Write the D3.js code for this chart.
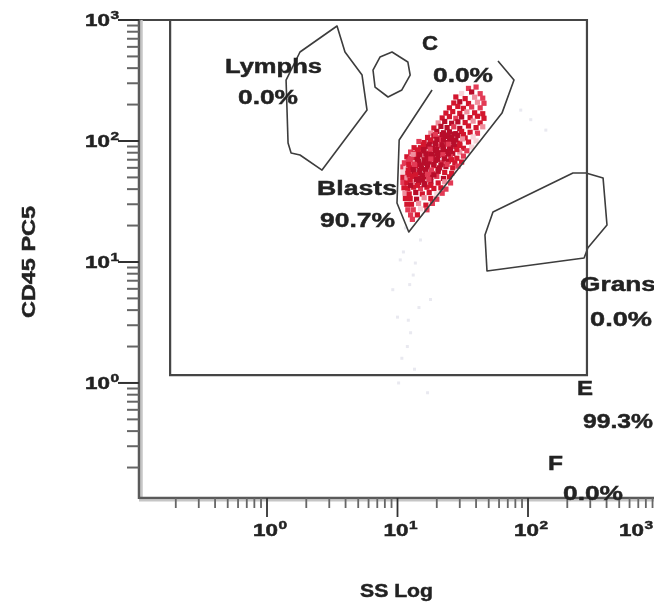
<!DOCTYPE html>
<html><head><meta charset="utf-8">
<script src="https://cdn.jsdelivr.net/npm/d3@7"></script>
<style>
body{margin:0;background:#fff;}
svg{display:block;}
text{font-family:"Liberation Sans",Arial,sans-serif;font-weight:bold;fill:#232323;stroke:#232323;stroke-width:0.45px;}
</style>
</head><body>
<svg id="chart" width="654" height="602"></svg>
<script>
// ---------- data ----------
const xTickValues = [1, 10, 100, 1000];
const xTickExps   = ["0", "1", "2", "3"];
const yTickValues = [1, 10, 100, 1000];
const yTickExps   = ["0", "1", "2", "3"];
const xTitle = "SS Log";
const yTitle = "CD45 PC5";

// events [SS, CD45] inside the Blasts gate (red)
const blastEvents = [
[35,272],[40,279],
[31,247],[37,254],[43,246],
[28,231],[33,224],[39,230],[45,226],
[27,206],[30,211],[35,204],[41,209],[46,205],
[25,188],[29,193],[32,186],[37,191],[43,188],
[23.5,170],[26.5,175],[30,169],[34,174],[39,171],[45,168],
[22,155],[25,159],[28,154],[31,158],[36,156],[41,160],[46,154],
[20.5,141],[23,145],[26,140],[29,144],[33,142],[38,146],[43,141],
[19,128],[21.5,132],[24,129],[27,131],[30,127],[35,133],[40,129],[45,131],
[18,116],[20,120],[22.5,117],[25,119],[28,115],[31,120],[36,118],[41,116],
[17,107],[19,110],[21,106],[23,109],[26,107],[29,111],[33,106],[38,108],
[14.6,99],[16,97],[17.8,99],[19.5,96],[21.5,100],[24,97],[27,99],[30,96],[35,98],[40,100],
[13.4,88],[15,88],[16.8,90],[18.5,87],[20.5,91],[22.5,89],[25,88],[28,90],[32,87],[37,89],
[12.6,81],[13.4,79],[14.5,80],[16,82],[17.5,79],[19.5,83],[21.5,80],[24,82],[26.5,79],[30,81],[34,83],
[11.8,74],[12.6,72],[13.8,73],[15.2,75],[16.8,72],[18.5,74],[20.5,76],[23,73],[25.5,74],[28.5,72],[32,75],
[11.3,66],[12.1,68],[13,66],[14.5,68],[16,65.5],[17.5,67],[19.5,69],[22,66],[24.5,68],[27.5,66],[31,67],
[11.0,61],[11.6,59],[12.5,60],[13.8,62],[15.3,59.5],[17,61],[19,62.5],[21,60],[23.5,61.5],[26.5,60],[29,62],
[11.0,55],[12,54],[13.4,56],[14.8,54.5],[16.5,55.5],[18.5,54],[20.5,56],[23,55],[26,54],
[11.0,50],[11.8,49.5],[13,51],[14.5,49],[16,50.5],[18,50],[20,51],[22.5,49],[25,50.5],
[11.0,45.5],[11.8,45],[13,46],[14.5,45.5],[16.2,44.5],[18,46],[20.5,45],[23,46],[25.5,45],
[11.2,41],[12,40.5],[13.3,41.5],[15,40.5],[16.8,41.5],[19,40.5],[21.5,41],[23.5,40],
[11.4,37],[12.3,36.5],[13.8,37.5],[15.5,36.5],[17.5,37.5],[20,36.5],[22,37],
[11.5,33.5],[12.5,33.5],[14,33],[16,34],[18,33.5],[20,33],
[11.8,30],[12.8,30],[14.5,30.5],[16.5,29.5],[18.5,30.5],
[12.0,27],[13.2,27],[15,27.5],[16.8,27],
[12.6,24.5],[14.2,24.5],[13.0,22.5],
// in-between events of the dense core
[19.5,113],[22,113],[24.5,112],[27,114],[32,113],
[18,102],[20,103],[22.5,102],[25,103],[28,102],[31.5,104],
[15.8,93],[17.5,93],[19.5,94],[22,93],[24.5,94],[27,93],[30,92],
[14.2,84.5],[15.8,85],[17.8,85.5],[20,85],[22.3,84],[25.5,85.5],[28.5,85],
[13.2,77.5],[14.8,77],[16.5,78],[18.2,77.5],[20,78],[22.3,77],[24.5,78],
[12.5,70.5],[14.2,70.5],[16,70],[18,71],[20.3,70.5],[22.8,71],[26,70],
[12.2,64],[13.5,64],[15,63.5],[17,64.5],[19,64],[21.5,63.5],[24,64],
[12.1,57.5],[13.2,58],[14.8,57],[16.4,58],[18.2,57.5],[20.5,58],
[12.3,52.5],[13.8,52.5],[15.4,52],[17,53],[19,52.5],
[12.5,47.5],[14,48],[15.6,47.5],[17.4,48],
[12.6,43],[14.2,43],[16,43.5],[18,43]
];

// faint events outside the gates
const otherEvents = [
[10.5,10.4],[13.7,9.8],[13.2,7.8],[10.0,3.5],[12.1,3.3],[12.6,2.6],[11.9,2.0],
[10.2,1.0],[17.0,0.83],[11.1,12.1],[15.0,15.2],[9.2,5.9],[17.9,4.9],[11.5,19.1],
[12.4,6.5],[14.6,4.2],[10.8,1.6],[13.5,1.3],[88,180],[137,123],[105,150]
];

// gates (SS, CD45)
const gateLymphs = [[3.44,892],[3.96,544],[5.35,351],[5.84,180],[2.64,57.5],[1.79,76.6],[1.53,79.6],[1.45,96.2],[1.40,319],[1.79,544]];
const gateC      = [[9.08,544],[12.0,450],[12.5,351],[10.8,264],[8.46,231],[6.73,279],[6.49,386],[7.34,494]];
const gateBlasts = [[18.4,264],[10.3,102],[9.91,30.7],[12.2,17.7],[63.2,170],[78.1,319],[58.9,458]];
const gateGrans  = [[53.9,25.9],[221,54.4],[278,54.4],[376,49.5],[403,20.2],[288,13.1],[269,10.8],[48.5,8.43],[46.8,16.7]];
const gateE      = {ssMin:0.181, ssMax:283, cdMin:1.16, cdMax:1000};

// ---------- layout ----------
const svg = d3.select("#chart");
const defs = svg.append("defs");
defs.append("filter").attr("id","soft").append("feGaussianBlur").attr("stdDeviation",0.45);
const g = svg.append("g").attr("filter","url(#soft)");

const axisX = 139, axisY = 498, topY = 20;
const x = d3.scaleLog().domain([0.1, 1000]).range([136.5, 658.5]);
const y = d3.scaleLog().domain([0.112, 1000]).range([498, 20]);

// faint events
g.append("g").selectAll("rect").data(otherEvents).join("rect")
  .attr("x", d => x(d[0]) - 1.5).attr("y", d => y(d[1]) - 1.5)
  .attr("width", 3).attr("height", 3).attr("fill", "#e9e9f0");

// blasts events, coloured by distance from cloud centre
const pts = blastEvents.map(d => [x(d[0]), y(d[1])]);
const cx = d3.mean(pts, p => p[0]) + 2, cy = d3.mean(pts, p => p[1]) - 4;
const palette = ["#b80d2a", "#d3162f", "#e23a55", "#ef8e9d", "#f8d4d9"];
g.append("g").selectAll("rect").data(pts).join("rect")
  .attr("x", p => p[0] - 2.6).attr("y", p => p[1] - 2.6)
  .attr("width", 5.2).attr("height", 5.2)
  .attr("fill", (p, i) => {
    const dx = p[0] - cx, dy = p[1] - cy;
    const t = dx * 0.5 - dy * 0.87, s = dx * 0.87 + dy * 0.5;
    const d = Math.sqrt((t / 84) ** 2 + (s / 28) ** 2);
    let lvl = d < 0.5 ? 0 : d < 0.8 ? 1 : d < 1.0 ? 2 : d < 1.15 ? 3 : 4;
    if (i % 5 === 2) lvl = Math.min(4, lvl + 2);
    if (i % 7 === 3) lvl = Math.max(0, lvl - 1);
    return palette[lvl];
  });

// gates
const gateLine = d3.line().x(d => x(d[0])).y(d => y(d[1]));
const gateStyle = sel => sel.attr("fill", "none").attr("stroke", "#3c3c3c").attr("stroke-width", 1.6).attr("stroke-linejoin", "round");
g.append("path").attr("d", gateLine(gateLymphs) + "Z").call(gateStyle);
g.append("path").attr("d", gateLine(gateC) + "Z").call(gateStyle);
g.append("path").attr("d", gateLine(gateBlasts)).call(gateStyle);
g.append("path").attr("d", gateLine(gateGrans) + "Z").call(gateStyle);
// E rectangle + top border
g.append("path")
  .attr("d", `M${axisX},${y(gateE.cdMax)}H${x(gateE.ssMax)}V${y(gateE.cdMin)}H${x(gateE.ssMin)}V${y(gateE.cdMax)}`)
  .attr("fill", "none").attr("stroke", "#444").attr("stroke-width", 2.2);

// axes
g.append("line").attr("x1", axisX + 2.5).attr("x2", axisX + 2.5).attr("y1", topY).attr("y2", axisY)
  .attr("stroke", "#c6c6c6").attr("stroke-width", 2.5);
g.append("line").attr("x1", axisX).attr("x2", 654).attr("y1", axisY + 2.5).attr("y2", axisY + 2.5)
  .attr("stroke", "#c6c6c6").attr("stroke-width", 2);
g.append("line").attr("x1", axisX).attr("x2", axisX).attr("y1", topY).attr("y2", axisY + 1)
  .attr("stroke", "#5a5a5a").attr("stroke-width", 2.5);
g.append("line").attr("x1", axisX).attr("x2", 654).attr("y1", axisY).attr("y2", axisY)
  .attr("stroke", "#5a5a5a").attr("stroke-width", 2.5);

const isMajor = v => Math.abs(Math.log10(v) - Math.round(Math.log10(v))) < 1e-6;
// y ticks
g.append("g").selectAll("line").data(y.ticks().filter(v => v >= 0.15)).join("line")
  .attr("x1", v => isMajor(v) ? axisX - 21 : axisX - 12).attr("x2", axisX)
  .attr("y1", v => y(v)).attr("y2", v => y(v))
  .attr("stroke", v => isMajor(v) ? "#333" : "#666").attr("stroke-width", 2);
// x ticks
g.append("g").selectAll("line").data(x.ticks().filter(v => v >= 0.15 && x(v) <= 656)).join("line")
  .attr("x1", v => x(v)).attr("x2", v => x(v))
  .attr("y1", axisY).attr("y2", v => isMajor(v) ? axisY + 19 : axisY + 10)
  .attr("stroke", v => isMajor(v) ? "#333" : "#666").attr("stroke-width", 1.8);

// tick labels
yTickValues.forEach((v, i) => {
  const lg = g.append("g").attr("transform", `translate(110,${y(v) + 6}) scale(1.4,1)`);
  lg.append("text").attr("text-anchor", "end").attr("font-size", 16).text("10");
  lg.append("text").attr("x", 0.3).attr("y", -7).attr("font-size", 11).text(yTickExps[i]);
});
xTickValues.forEach((v, i) => {
  const ex = Math.min(x(v) + 11, 644);
  const lg = g.append("g").attr("transform", `translate(${ex},536) scale(1.4,1)`);
  lg.append("text").attr("text-anchor", "end").attr("font-size", 16).text("10");
  lg.append("text").attr("x", 0.3).attr("y", -7).attr("font-size", 11).text(xTickExps[i]);
});

// titles
g.append("text").attr("x", 360).attr("y", 597).attr("font-size", 18)
  .attr("textLength", 73).attr("lengthAdjust", "spacingAndGlyphs").text(xTitle);
g.append("text").attr("transform", "translate(35,318) rotate(-90)").attr("font-size", 18)
  .attr("textLength", 112).attr("lengthAdjust", "spacingAndGlyphs").text(yTitle);

// gate labels
const gateLabels = [
  ["Lymphs", 225, 73, 97], ["0.0%", 238, 104, 60],
  ["C", 422, 50, 16], ["0.0%", 433, 82, 60],
  ["Blasts", 317, 195, 80], ["90.7%", 320, 227, 75],
  ["Grans", 580, 291, 76], ["0.0%", 590, 326, 62],
  ["E", 577, 395, 16], ["99.3%", 583, 428, 70],
  ["F", 548, 470, 15], ["0.0%", 563, 500, 60]
];
g.append("g").selectAll("text").data(gateLabels).join("text")
  .attr("x", d => d[1]).attr("y", d => d[2]).attr("font-size", 20)
  .attr("textLength", d => d[3]).attr("lengthAdjust", "spacingAndGlyphs")
  .text(d => d[0]);
</script>
</body></html>
